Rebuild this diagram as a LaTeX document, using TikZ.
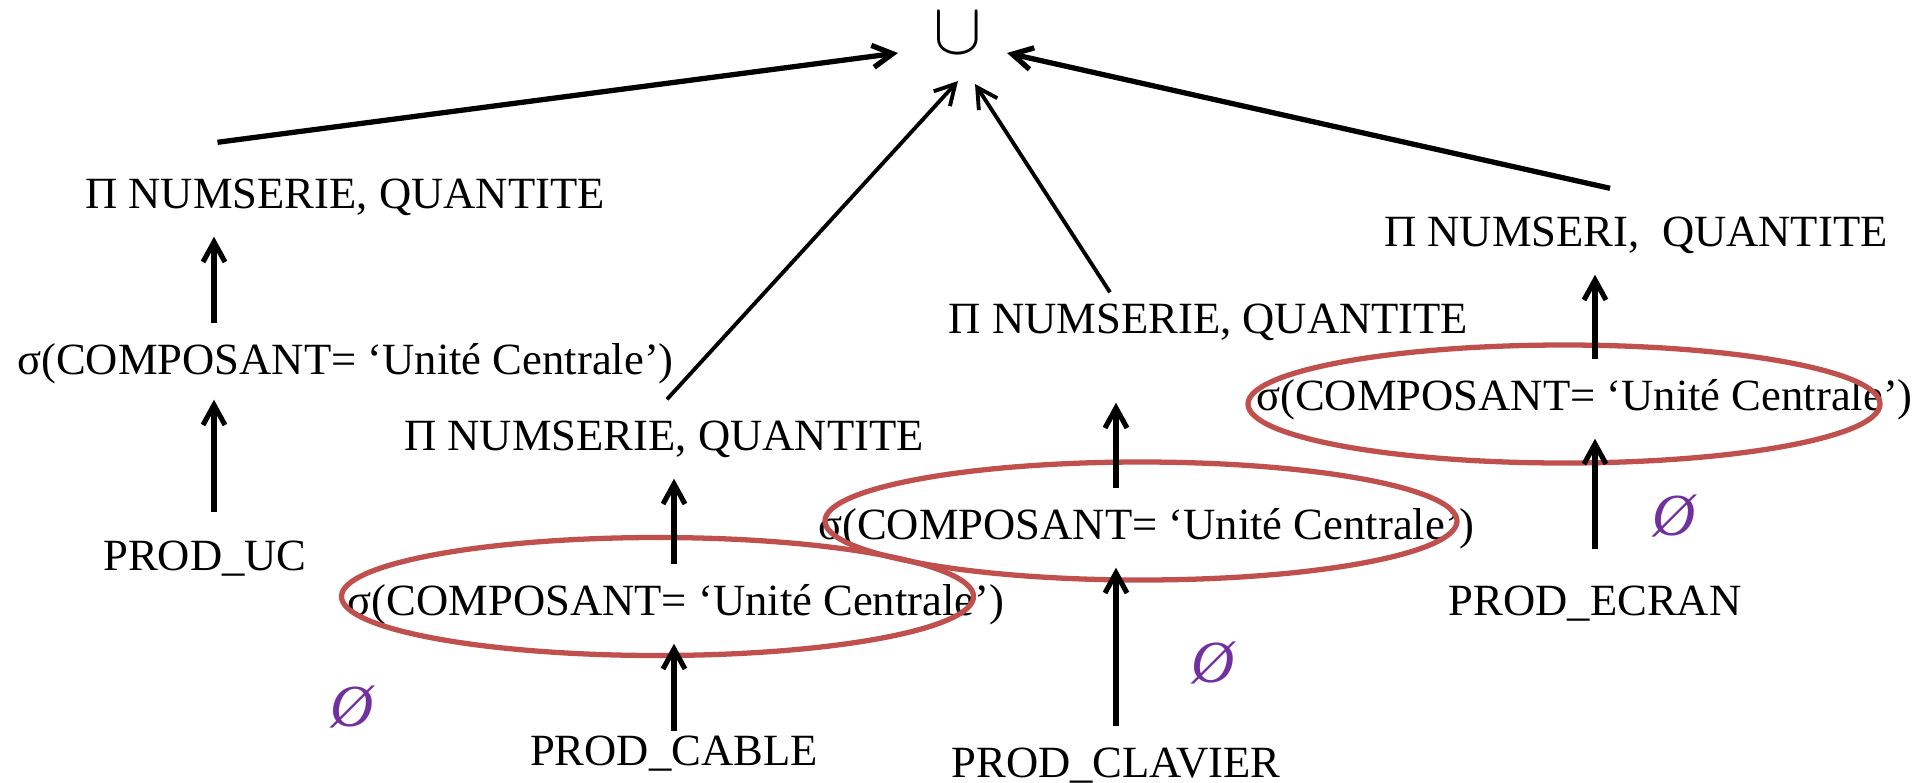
\documentclass[tikz,border=0pt]{standalone}
\usepackage{fontspec}
\setmainfont{Liberation Serif}
\usetikzlibrary{arrows.meta}
\definecolor{rougeE}{RGB}{192,80,77}
\definecolor{pourpre}{RGB}{112,48,160}

\begin{document}
\begin{tikzpicture}[
    txt/.style={font=\fontsize{12.7}{15}\selectfont, inner sep=0pt, text height=0.30cm, text depth=0.08cm, anchor=base},
    link/.style={line width=1.3pt, -{Straight Barb[length=2mm,width=2.2mm]}},
    rise/.style={link, line width=1.45pt, shorten <=2mm, shorten >=2mm},
    ring/.style={draw=rougeE, line width=1.5pt},
    vide/.style={font=\fontsize{17}{19}\selectfont\itshape, text=pourpre, inner sep=0pt}]
            \useasboundingbox (0,0) rectangle (19.2,-7.82);
            \node[anchor=base, inner sep=0pt, font=\fontsize{20}{24}\selectfont] (uni) at (9.575,-0.53) {$\cup$};

            % PROD_UC
            \node[txt] (projUC) at (3.45,-2.08) {Π NUMSERIE, QUANTITE};
            \node[txt] (selUC) at (3.455,-3.74) {σ(COMPOSANT= ‘Unité Centrale’)};
            \node[txt] (prodUC) at (2.05,-5.70) {PROD\_UC};
            % PROD_CABLE
            \node[txt] (projCable) at (6.64,-4.50) {Π NUMSERIE, QUANTITE};
            \node[txt] (selCable) at (6.76,-6.15) {σ(COMPOSANT= ‘Unité Centrale’)};
            \node[txt] (prodCable) at (6.74,-7.65) {PROD\_CABLE};
            % PROD_CLAVIER
            \node[txt] (projClavier) at (12.085,-3.33) {Π NUMSERIE, QUANTITE};
            \node[txt] (selClavier) at (11.465,-5.39) {σ(COMPOSANT= ‘Unité Centrale’)};
            \node[txt] (prodClavier) at (11.16,-7.77) {PROD\_CLAVIER};
            % PROD_ECRAN
            \node[txt] (projEcran) at (16.36,-2.46) {Π NUMSERI,\ \ QUANTITE};
            \node[txt] (selEcran) at (15.845,-4.10) {σ(COMPOSANT= ‘Unité Centrale’)};
            \node[txt] (prodEcran) at (15.95,-6.15) {PROD\_ECRAN};

            \node[vide] (vide1) at (3.52,-7.07) {Ø};
            \node[vide] (vide2) at (12.13,-6.63) {Ø};
            \node[vide] (vide3) at (16.74,-5.16) {Ø};

            \draw[ring] ([shift={(-0.185,0.185)}]selCable.base) ellipse [x radius=3.16, y radius=0.59];
            \draw[ring] ([shift={(-0.055,0.18)}]selClavier.base) ellipse [x radius=3.16, y radius=0.59];
            \draw[ring] ([shift={(-0.205,0.06)}]selEcran.base) ellipse [x radius=3.16, y radius=0.59];

            \draw[rise, shorten <=2.7mm, shorten >=1.7mm] ([xshift=0.9mm]prodUC.north) -- ([xshift=0.9mm]prodUC.north |- selUC.south);
            \draw[rise] ([xshift=0.9mm]prodUC.north |- selUC.north) -- ([xshift=0.9mm]prodUC.north |- projUC.south);
            \draw[rise, shorten <=0.3mm] (prodCable.north) -- (prodCable.north |- selCable.south);
            \draw[rise] (prodCable.north |- selCable.north) -- (prodCable.north |- projCable.south);
            \draw[rise] (prodClavier.north) -- (prodClavier.north |- selClavier.south);
            \draw[rise, shorten >=6.1mm] (prodClavier.north |- selClavier.north) -- (prodClavier.north |- projClavier.south);
            \draw[rise, shorten <=3.5mm] (prodEcran.north) -- (prodEcran.north |- selEcran.south);
            \draw[rise] (prodEcran.north |- selEcran.north) -- (prodEcran.north |- projEcran.south);

            \draw[link, line width=1.5pt] ([shift={(-1.275,0.35)}]projUC.north) -- ([xshift=-5.95mm]uni.base);
            \draw[link, line width=1.1pt] ([shift={(0.03,0.20)}]projCable.north) -- ([shift={(0.005,-0.28)}]uni.base);
            \draw[link, line width=1.1pt] ([shift={(-0.985,0.10)}]projClavier.north) -- ([shift={(0.175,-0.31)}]uni.base);
            \draw[link, line width=1.5pt] ([shift={(-0.26,0.27)}]projEcran.north) -- ([xshift=4.95mm]uni.base);

        \end{tikzpicture}
\end{document}
